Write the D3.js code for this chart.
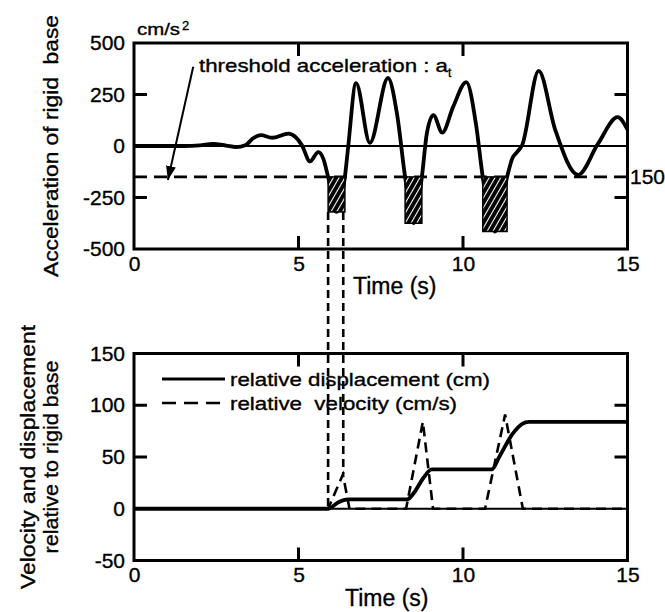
<!DOCTYPE html>
<html>
<head>
<meta charset="utf-8">
<script src="https://cdn.jsdelivr.net/npm/d3@7"></script>
<style>
  body { margin: 0; background: #fff; }
  text { font-family: "Liberation Sans", Arial, sans-serif; fill: #000; stroke: #000; stroke-width: 0.35px; }
</style>
</head>
<body>
<div id="chart"></div>
<script>
// acceleration of rigid base (cm/s2)
var accTime  = [0, 1.5, 2.0, 2.4, 2.8, 3.1, 3.4, 3.6, 3.86, 4.2, 4.7, 4.9, 5.1, 5.35, 5.6, 5.75, 5.9, 6.15, 6.41, 6.5, 6.75, 7.17, 7.72, 8.0, 8.24, 8.5, 8.75, 8.9, 9.1, 9.37, 9.7, 10.1, 10.4, 10.6, 10.97, 11.34, 11.5, 11.64, 11.8, 12.3, 12.8, 13.5, 14.1, 14.7, 15];
var accValue = [0, 0, 3, 10, 2, -5, 5, 35, 53, 40, 60, 45, 5, -75, -30, -60, -150, -320, -150, -20, 305, 15, 330, 150, -150, -375, -150, 60, 150, 65, 190, 310, 100, -150, -415, -150, -60, -30, 5, 365, 80, -140, 10, 140, 80];
var threshold = -150;

// hatched parts where the acceleration is below the threshold
var blockStart = [5.9, 8.24, 10.6];
var blockEnd   = [6.41, 8.75, 11.34];
var blockMin   = [-320, -375, -415];

// dashed guides linking the first block to the lower panel
var linkTime = [5.9, 6.36];
var linkEnd  = [0, 33];

// relative displacement (cm)
var dispTime  = [0, 5.9, 6.2, 6.5, 8.3, 8.5, 8.8, 9.05, 10.88, 11.1, 11.5, 11.8, 12.0, 15];
var dispValue = [0, 0, 6, 9, 9, 15, 30, 38, 38, 50, 72, 82, 84, 84];

// relative velocity (cm/s)
var velTime  = [0, 5.9, 6.35, 6.55, 8.27, 8.78, 9.09, 10.67, 11.28, 11.82, 15];
var velValue = [0, 0, 33, 0, 0, 84, 0, 0, 91, 0, 0];

var timeTicks = [0, 5, 10, 15];
var accTicks = [-500, -250, 0, 250, 500];
var relTicks = [-50, 0, 50, 100, 150];

var width = 665, height = 612;

var svg = d3.select("#chart")
  .append("svg")
    .attr("width", width)
    .attr("height", height);

var x = d3.scaleLinear().domain([0, 15]).range([134, 627.5]);
var yA = d3.scaleLinear().domain([-500, 500]).range([249, 43]);
var yB = d3.scaleLinear().domain([-50, 150]).range([560.5, 353.5]);

// hatch pattern for the blocks
var defs = svg.append("defs");
var pat = defs.append("pattern")
  .attr("id", "hatch")
  .attr("patternUnits", "userSpaceOnUse")
  .attr("width", 5).attr("height", 5)
  .attr("patternTransform", "rotate(30)");
pat.append("rect").attr("width", 5).attr("height", 5).attr("fill", "#000");
pat.append("line").attr("x1", 2.5).attr("y1", 0).attr("x2", 2.5).attr("y2", 5)
  .attr("stroke", "#fff").attr("stroke-width", 1.1);

defs.append("marker")
  .attr("id", "arrow")
  .attr("markerUnits", "userSpaceOnUse")
  .attr("viewBox", "0 -6 14 12")
  .attr("refX", 14).attr("refY", 0)
  .attr("markerWidth", 14).attr("markerHeight", 12)
  .attr("orient", "auto")
  .append("path").attr("d", "M0,-5L14,0L0,5Z").attr("fill", "#000");

var TICK = 13;

function panel(y, ticks, inner) {
  var y0 = y.range()[0], y1 = y.range()[1];
  var x0 = x.range()[0], x1 = x.range()[1];

  // labels from d3 axes
  svg.append("g")
    .attr("transform", "translate(0," + y0 + ")")
    .call(d3.axisBottom(x).tickValues(timeTicks).tickSize(0).tickPadding(7)
      .tickFormat(function (d) { return String(d); }));
  svg.append("g")
    .attr("transform", "translate(" + x0 + ",0)")
    .call(d3.axisLeft(y).tickValues(ticks).tickSize(0).tickPadding(9)
      .tickFormat(function (d) { return String(d); }));

  svg.selectAll(".domain").remove();
  svg.selectAll(".tick text")
    .attr("font-size", 21)
    .style("font-family", "'Liberation Sans', Arial, sans-serif");

  // inward tick marks on all four sides
  var t = svg.append("g").attr("stroke", "#000").attr("stroke-width", 3);
  var xt = timeTicks.slice(1, -1);
  t.selectAll(".xb").data(xt).enter().append("line")
    .attr("x1", function (d) { return x(d); }).attr("x2", function (d) { return x(d); })
    .attr("y1", y0).attr("y2", y0 - TICK);
  t.selectAll(".xt").data(xt).enter().append("line")
    .attr("x1", function (d) { return x(d); }).attr("x2", function (d) { return x(d); })
    .attr("y1", y1).attr("y2", y1 + TICK);
  t.selectAll(".yl").data(inner).enter().append("line")
    .attr("x1", x0).attr("x2", x0 + TICK)
    .attr("y1", function (d) { return y(d); }).attr("y2", function (d) { return y(d); });
  t.selectAll(".yr").data(inner).enter().append("line")
    .attr("x1", x1).attr("x2", x1 - TICK)
    .attr("y1", function (d) { return y(d); }).attr("y2", function (d) { return y(d); });

  svg.append("rect")
    .attr("x", x0).attr("y", y1)
    .attr("width", x1 - x0).attr("height", y0 - y1)
    .attr("fill", "none").attr("stroke", "#000").attr("stroke-width", 3);
}

// ---------- top panel ----------
svg.append("line")
  .attr("x1", x(0)).attr("x2", x(15)).attr("y1", yA(0)).attr("y2", yA(0))
  .attr("stroke", "#000").attr("stroke-width", 1.8);
svg.append("line")
  .attr("x1", x(0)).attr("x2", x(15)).attr("y1", yA(threshold)).attr("y2", yA(threshold))
  .attr("stroke", "#000").attr("stroke-width", 2.6).attr("stroke-dasharray", "13,7");

var accLine = d3.line()
  .x(function (d) { return x(d[0]); })
  .y(function (d) { return yA(d[1]); })
  .curve(d3.curveMonotoneX);
svg.append("path")
  .datum(d3.zip(accTime, accValue))
  .attr("d", accLine)
  .attr("fill", "none").attr("stroke", "#000").attr("stroke-width", 3.8)
  .attr("stroke-linejoin", "round");

svg.append("g").selectAll("rect")
  .data(d3.zip(blockStart, blockEnd, blockMin))
  .enter().append("rect")
    .attr("x", function (d) { return x(d[0]); })
    .attr("y", yA(threshold))
    .attr("width", function (d) { return x(d[1]) - x(d[0]); })
    .attr("height", function (d) { return yA(d[2]) - yA(threshold); })
    .attr("fill", "url(#hatch)").attr("stroke", "#000").attr("stroke-width", 1.5);

panel(yA, accTicks, [-250, 250]);

svg.append("text").attr("x", 630).attr("y", yA(threshold)).attr("dy", "0.35em")
  .attr("font-size", 21).text("150");

svg.append("text").attr("x", 137).attr("y", 35)
  .attr("font-size", 17).attr("textLength", 43).attr("lengthAdjust", "spacingAndGlyphs")
  .text("cm/s");
svg.append("text").attr("x", 182).attr("y", 30).attr("font-size", 13).text("2");

svg.append("text").attr("x", 199).attr("y", 72)
  .attr("font-size", 19).attr("textLength", 249).attr("lengthAdjust", "spacingAndGlyphs")
  .text("threshold acceleration : a");
svg.append("text").attr("x", 448).attr("y", 77).attr("font-size", 12).text("t");

svg.append("line")
  .attr("x1", x(1.8)).attr("y1", yA(385))
  .attr("x2", x(1.03)).attr("y2", yA(-165))
  .attr("stroke", "#000").attr("stroke-width", 2)
  .attr("marker-end", "url(#arrow)");

svg.append("text")
  .attr("transform", "translate(58," + yA(0) + ") rotate(-90)")
  .attr("text-anchor", "middle").attr("font-size", 21)
  .attr("textLength", 262).attr("lengthAdjust", "spacingAndGlyphs")
  .style("white-space", "pre")
  .text("Acceleration of rigid  base");

svg.append("text").attr("x", 353).attr("y", 294)
  .attr("font-size", 23).text("Time (s)");

// guides between panels
svg.append("g").selectAll("line")
  .data(d3.zip(linkTime, linkEnd))
  .enter().append("line")
    .attr("x1", function (d) { return x(d[0]); })
    .attr("x2", function (d) { return x(d[0]); })
    .attr("y1", yA(blockMin[0]))
    .attr("y2", function (d) { return yB(d[1]); })
    .attr("stroke", "#000").attr("stroke-width", 2.6).attr("stroke-dasharray", "8,5");

// ---------- bottom panel ----------
svg.append("line")
  .attr("x1", x(0)).attr("x2", x(15)).attr("y1", yB(0)).attr("y2", yB(0))
  .attr("stroke", "#000").attr("stroke-width", 2.2);

var relLine = d3.line()
  .x(function (d) { return x(d[0]); })
  .y(function (d) { return yB(d[1]); });

svg.append("path")
  .datum(d3.zip(velTime, velValue))
  .attr("d", relLine)
  .attr("fill", "none").attr("stroke", "#000").attr("stroke-width", 2.6)
  .attr("stroke-dasharray", "10,6");

svg.append("path")
  .datum(d3.zip(dispTime, dispValue))
  .attr("d", relLine.curve(d3.curveMonotoneX))
  .attr("fill", "none").attr("stroke", "#000").attr("stroke-width", 3.8);

panel(yB, relTicks, [50, 100]);

// legend
svg.append("line").attr("x1", 162).attr("x2", 225).attr("y1", 379).attr("y2", 379)
  .attr("stroke", "#000").attr("stroke-width", 3);
svg.append("line").attr("x1", 162).attr("x2", 225).attr("y1", 403).attr("y2", 403)
  .attr("stroke", "#000").attr("stroke-width", 2.6).attr("stroke-dasharray", "14,8");
svg.append("text").attr("x", 230).attr("y", 386)
  .attr("font-size", 19).attr("textLength", 260).attr("lengthAdjust", "spacingAndGlyphs")
  .text("relative displacement (cm)");
svg.append("text").attr("x", 230).attr("y", 410)
  .attr("font-size", 19).attr("textLength", 227).attr("lengthAdjust", "spacingAndGlyphs")
  .style("white-space", "pre")
  .text("relative  velocity (cm/s)");

svg.append("text")
  .attr("transform", "translate(35," + yB(50) + ") rotate(-90)")
  .attr("text-anchor", "middle").attr("font-size", 21)
  .attr("textLength", 264).attr("lengthAdjust", "spacingAndGlyphs")
  .text("Velocity and displacement");
svg.append("text")
  .attr("transform", "translate(58," + yB(50) + ") rotate(-90)")
  .attr("text-anchor", "middle").attr("font-size", 21)
  .attr("textLength", 193).attr("lengthAdjust", "spacingAndGlyphs")
  .text("relative to rigid base");

svg.append("text").attr("x", 345).attr("y", 606)
  .attr("font-size", 23).text("Time (s)");
</script>
</body>
</html>
